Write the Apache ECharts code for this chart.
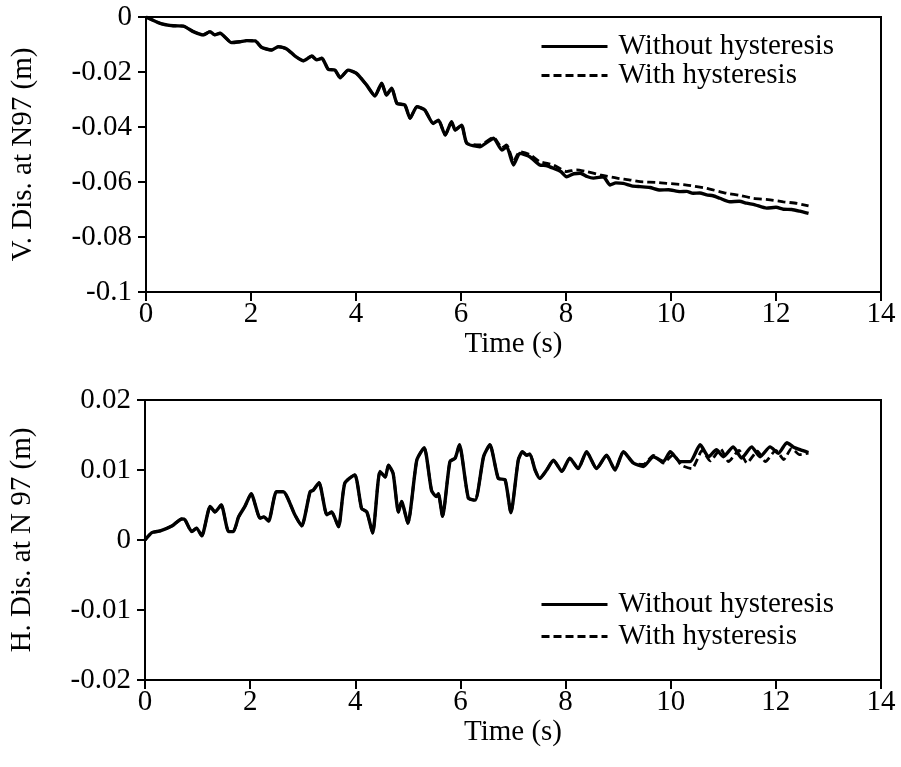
<!DOCTYPE html>
<html>
<head>
    <meta charset="utf-8">
    <title>N97 displacement</title>
    <script src="https://cdn.jsdelivr.net/npm/echarts@6/dist/echarts.min.js"></script>
    <style>
        html, body { margin: 0; padding: 0; background: #fff; }
        #main { width: 901px; height: 767px; }
    </style>
</head>
<body>
<div id="main"></div>
<script type="text/javascript">
// 竖向位移 (top)
var vTime = [0, 0.27, 0.52, 0.71, 0.90, 1.09, 1.22, 1.31, 1.41, 1.63, 1.79, 1.92, 2.08, 2.20, 2.39, 2.52, 2.68, 2.84, 3.00, 3.16,
    3.25, 3.35, 3.47, 3.60, 3.70, 3.85, 4.01, 4.20, 4.36, 4.49, 4.58, 4.68, 4.78, 4.93, 5.03, 5.16, 5.31, 5.47, 5.57, 5.70,
    5.82, 5.89, 6.01, 6.11, 6.36, 6.50, 6.62, 6.78, 6.87, 7.00, 7.12, 7.31, 7.50, 7.62, 7.76, 7.90, 8.01, 8.15, 8.27, 8.40,
    8.52, 8.71, 8.84, 8.95, 9.09, 9.25, 9.41, 9.60, 9.79, 9.95, 10.17, 10.30, 10.42, 10.55, 10.68, 10.80, 10.93, 11.12, 11.30, 11.44,
    11.60, 11.82, 12.00, 12.14, 12.30, 12.45, 12.62];
var vWithout = [0, -0.0023, -0.0032, -0.0033, -0.0053, -0.0065, -0.0053, -0.0065, -0.0059, -0.0093, -0.0090, -0.0086, -0.0087, -0.0110, -0.0120, -0.0108, -0.0116, -0.0142, -0.0159, -0.0142,
    -0.0156, -0.0150, -0.0190, -0.0193, -0.0221, -0.0193, -0.0205, -0.0247, -0.0287, -0.0241, -0.0284, -0.0259, -0.0314, -0.0320, -0.0368, -0.0326, -0.0338, -0.0387, -0.0375, -0.0429,
    -0.0381, -0.0411, -0.0393, -0.0459, -0.0472, -0.0455, -0.0441, -0.0484, -0.0472, -0.0538, -0.0496, -0.0508, -0.0538, -0.0540, -0.0550, -0.0562, -0.0581, -0.0570, -0.0568, -0.0580,
    -0.0586, -0.0581, -0.0611, -0.0603, -0.0605, -0.0614, -0.0617, -0.0620, -0.0629, -0.0628, -0.0635, -0.0634, -0.0641, -0.0640, -0.0647, -0.0650, -0.0659, -0.0672, -0.0670, -0.0677,
    -0.0683, -0.0695, -0.0692, -0.0699, -0.0700, -0.0706, -0.0714];
// with hysteresis: same as above up to 6.01 s, then
var vWithTailTime = [6.11, 6.36, 6.62, 6.78, 6.87, 7.00, 7.12, 7.31, 7.50, 7.76, 8.01, 8.20, 8.39, 8.65, 8.97, 9.20, 9.41, 9.70, 9.92, 10.30,
    10.68, 11.06, 11.30, 11.57, 11.85, 12.14, 12.40, 12.62];
var vWithTail = [-0.0459, -0.0465, -0.0438, -0.0475, -0.0465, -0.0525, -0.0490, -0.0500, -0.0526, -0.0538, -0.0562, -0.0556, -0.0562, -0.0574, -0.0586, -0.0592, -0.0599, -0.0601, -0.0605, -0.0611,
    -0.0623, -0.0641, -0.0648, -0.0659, -0.0664, -0.0672, -0.0678, -0.0687];

// 水平位移 (bottom)
var hTime = [0, 0.13, 0.29, 0.51, 0.70, 0.76, 0.89, 0.98, 1.08, 1.24, 1.33, 1.45, 1.59, 1.68, 1.78, 1.90, 2.02, 2.19, 2.26, 2.35,
    2.50, 2.63, 2.85, 2.98, 3.14, 3.20, 3.31, 3.46, 3.55, 3.68, 3.80, 3.99, 4.12, 4.22, 4.33, 4.47, 4.57, 4.63, 4.72, 4.82,
    4.88, 5.00, 5.17, 5.31, 5.45, 5.54, 5.58, 5.66, 5.80, 5.90, 5.98, 6.15, 6.28, 6.44, 6.56, 6.72, 6.85, 6.96, 7.10, 7.18,
    7.26, 7.32, 7.42, 7.51, 7.64, 7.77, 7.93, 8.08, 8.24, 8.40, 8.59, 8.78, 8.94, 9.10, 9.29, 9.48, 9.67, 9.86, 9.99, 10.18,
    10.37, 10.56, 10.72, 10.87, 11.00, 11.19, 11.35, 11.54, 11.70, 11.89, 12.05, 12.21, 12.33, 12.46, 12.62];
var hWithout = [0, 0.00105, 0.0013, 0.0020, 0.0030, 0.0029, 0.0012, 0.0017, 0.0006, 0.0048, 0.0040, 0.0050, 0.0012, 0.0012, 0.0033, 0.0048, 0.0066, 0.0031, 0.0033, 0.0027,
    0.0069, 0.0069, 0.0036, 0.0020, 0.0069, 0.0071, 0.0082, 0.0036, 0.0040, 0.0019, 0.0081, 0.0093, 0.0045, 0.0040, 0.0010, 0.0098, 0.0090, 0.0107, 0.0095, 0.0040,
    0.0055, 0.0024, 0.0114, 0.0132, 0.0071, 0.0062, 0.0066, 0.0034, 0.0112, 0.0117, 0.0136, 0.0060, 0.0057, 0.0119, 0.0136, 0.0088, 0.0086, 0.0039, 0.0114, 0.0126,
    0.0121, 0.0123, 0.0100, 0.0088, 0.0100, 0.0114, 0.0098, 0.0117, 0.0102, 0.0126, 0.0102, 0.0121, 0.0100, 0.0126, 0.0110, 0.0105, 0.0119, 0.0112, 0.0126, 0.0112,
    0.0112, 0.0136, 0.0119, 0.0129, 0.0119, 0.0133, 0.0117, 0.0133, 0.0119, 0.0133, 0.0124, 0.0139, 0.0133, 0.0129, 0.0125];
// with hysteresis: same as above up to 9.29 s, then
var hWithTailTime = [9.48, 9.67, 9.86, 10.05, 10.20, 10.40, 10.60, 10.75, 10.95, 11.10, 11.30, 11.45, 11.65, 11.80, 12.00, 12.15, 12.30, 12.45, 12.62];
var hWithTail = [0.0108, 0.0121, 0.0110, 0.0122, 0.0107, 0.0102, 0.0128, 0.0113, 0.0130, 0.0112, 0.0128, 0.0110, 0.0127, 0.0112, 0.0128, 0.0115, 0.0131, 0.0122, 0.0124];

var seriesNames = ['Without hysteresis', 'With hysteresis'];

function pairs(t, v) {
    var out = [];
    for (var i = 0; i < t.length; i++) {
        out.push([t[i], v[i]]);
    }
    return out;
}
// 前段相同，后段替换
function joinTail(t, v, tailT, tailV) {
    var out = [];
    for (var i = 0; i < t.length; i++) {
        if (t[i] < tailT[0]) out.push([t[i], v[i]]);
    }
    return out.concat(pairs(tailT, tailV));
}

var FONT = 'Liberation Serif';
var FS = 29;

function xAxisOf(idx) {
    return {
        gridIndex: idx, type: 'value', min: 0, max: 14, interval: 2,
        name: 'Time (s)', nameLocation: 'middle', nameGap: 34,
        nameTextStyle: { fontFamily: FONT, fontSize: FS, color: '#000' },
        axisLine: { onZero: false, lineStyle: { color: '#000', width: 2 } },
        axisTick: { inside: false, length: 9, lineStyle: { color: '#000', width: 2 } },
        axisLabel: { margin: 8, fontFamily: FONT, fontSize: FS, color: '#000' },
        splitLine: { show: false }
    };
}
function yAxisOf(idx, min, max, interval, name, fmt) {
    return {
        gridIndex: idx, type: 'value', min: min, max: max, interval: interval,
        name: name, nameLocation: 'middle', nameGap: 108,
        nameTextStyle: { fontFamily: FONT, fontSize: FS, color: '#000' },
        axisLine: { show: true, onZero: false, lineStyle: { color: '#000', width: 2 } },
        axisTick: { inside: false, length: 8, lineStyle: { color: '#000', width: 2 } },
        axisLabel: { margin: 14, fontFamily: FONT, fontSize: FS, color: '#000', formatter: fmt },
        splitLine: { show: false }
    };
}
function legendOf(top, gap) {
    return {
        orient: 'vertical', left: 535, top: top,
        itemWidth: 66, itemHeight: 4, itemGap: gap,
        data: seriesNames,
        itemStyle: { color: 'transparent', borderWidth: 0 },
        lineStyle: { width: 3 },
        textStyle: { fontFamily: FONT, fontSize: FS, color: '#000', padding: [0, 0, 0, 6] }
    };
}
function lineSeries(name, idx, data, dashed) {
    return {
        name: name, type: 'line', xAxisIndex: idx, yAxisIndex: idx,
        data: data, symbol: 'none', smooth: 0.2, animation: false,
        z: dashed ? 2 : 3,
        lineStyle: { color: '#000', width: dashed ? 2.8 : 3.4, type: dashed ? [8, 4] : 'solid' },
        itemStyle: { color: '#000' }
    };
}

var tickFmt = function (v) { return v === 0 ? '0' : String(+v.toFixed(2)); };

var myChart = echarts.init(document.getElementById('main'));
myChart.setOption({
    backgroundColor: '#fff',
    animation: false,
    grid: [
        { left: 146, top: 17, width: 735, height: 275, show: true, borderColor: '#000', borderWidth: 2, backgroundColor: 'transparent' },
        { left: 145, top: 400, width: 736, height: 280, show: true, borderColor: '#000', borderWidth: 2, backgroundColor: 'transparent' }
    ],
    xAxis: [xAxisOf(0), xAxisOf(1)],
    yAxis: [
        yAxisOf(0, -0.1, 0, 0.02, 'V. Dis. at N97 (m)', tickFmt),
        yAxisOf(1, -0.02, 0.02, 0.01, 'H. Dis. at N 97 (m)', tickFmt)
    ],
    legend: [legendOf(27, 0), legendOf(585, 3)],
    series: [
        lineSeries(seriesNames[1], 0, joinTail(vTime, vWithout, vWithTailTime, vWithTail), true),
        lineSeries(seriesNames[0], 0, pairs(vTime, vWithout), false),
        lineSeries(seriesNames[1], 1, joinTail(hTime, hWithout, hWithTailTime, hWithTail), true),
        lineSeries(seriesNames[0], 1, pairs(hTime, hWithout), false)
    ]
});
</script>
</body>
</html>
